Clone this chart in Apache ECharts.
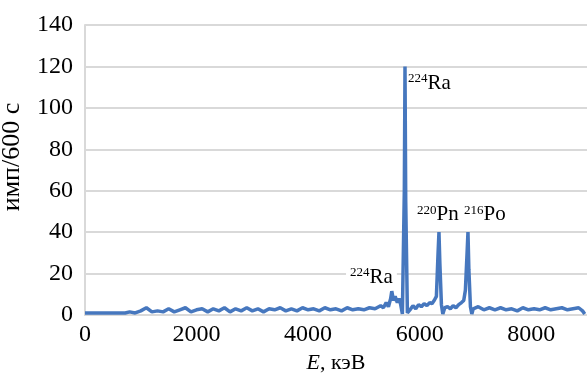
<!DOCTYPE html>
<html>
<head>
<meta charset="utf-8">
<script src="https://cdn.jsdelivr.net/npm/echarts@6/dist/echarts.min.js"></script>
<style>
  html, body { margin: 0; padding: 0; background: #fff; }
  #chart { width: 587px; height: 374px; }
</style>
</head>
<body>
<div id="chart"></div>
<script>
// энергия, кэВ
var energy = [
  0, 180, 360, 540, 720,
  800, 900, 1000, 1100, 1200, 1300, 1400, 1500, 1600, 1700, 1800, 1900,
  2000, 2100, 2200, 2300, 2400, 2500, 2600, 2700, 2800, 2900,
  3000, 3100, 3200, 3300, 3400, 3500, 3600, 3700, 3800, 3900,
  4000, 4100, 4200, 4300, 4400, 4500, 4600, 4700, 4800, 4900,
  5000, 5100, 5200, 5300, 5350, 5400, 5440, 5480, 5500, 5530, 5560, 5600, 5630, 5660,
  5690, 5725, 5737, 5750, 5780,
  5840, 5880, 5930, 5980, 6030, 6080, 6130, 6180, 6220, 6260, 6300,
  6330, 6346, 6362, 6390, 6415,
  6450, 6500, 6550, 6600, 6650, 6700, 6750, 6790, 6820,
  6850, 6866, 6882, 6910, 6935,
  6960, 7050, 7150, 7250, 7350, 7450, 7550, 7650, 7750, 7850, 7950,
  8050, 8150, 8250, 8350, 8450, 8550, 8650, 8750, 8850, 8920, 8960
];
// имп/600 с
var counts = [
  1, 1, 1, 1, 1,
  1.5, 1, 2, 3.5, 1.5, 2, 1.5, 3, 1.5, 2.5, 3.5, 1.5,
  2.5, 3, 1.5, 3, 2, 3.5, 1.5, 3, 2, 3.5,
  2, 3, 1.5, 3, 2.5, 3.5, 2, 3, 2, 3.5,
  2.5, 3, 2, 3.5, 2.5, 3, 2, 3.5, 2.5, 3,
  2.5, 3.5, 3, 4.5, 3.5, 6, 4, 8, 11.5, 7, 9, 6, 8, 5,
  0.5, 60, 120, 55, 1,
  3, 4.5, 3, 5, 4, 5.5, 4.5, 6, 5.5, 7, 9,
  30, 40, 25, 5, 0.5,
  3.5, 4, 3, 4.5, 3.5, 5, 6, 7, 12,
  30, 40, 22, 4, 0.5,
  3, 4, 2.5, 3.5, 2.5, 3.5, 2.5, 3, 2, 3.5, 2.5,
  3, 2.5, 3.5, 2.5, 3, 3.5, 2.5, 3, 3.5, 2, 0.5
];

var xTicks = [0, 2000, 4000, 6000, 8000];

// подписи пиков: [E, отсчёты, текст]
var peakLabels = [
  [5791, 112, '{s|224}{b|Ra}'],
  [5881, 48.8, '{s|220}{b|Pn }{s|216}{b|Po}'],
  [4680, 18.8, '{s|224}{b|Ra}']
];

var serif = 'Liberation Serif';
var chart = echarts.init(document.getElementById('chart'));

var seriesData = energy.map(function (e, i) {
  return [e, counts[i]];
});

var option = {
  animation: false,
  grid: {
    left: 85,
    right: 0,
    top: 25,
    bottom: 59,
    outerBoundsMode: 'none'
  },
  xAxis: {
    type: 'value',
    min: 0,
    max: 9000,
    interval: 2000,
    name: '{i|E}, кэВ',
    nameLocation: 'middle',
    nameGap: 32,
    nameTextStyle: {
      fontFamily: serif,
      fontSize: 22,
      color: '#000',
      rich: {
        i: { fontFamily: serif, fontSize: 22, fontStyle: 'italic', color: '#000' }
      }
    },
    axisLine: { show: true, lineStyle: { color: '#d9d9d9', width: 2 } },
    axisTick: { show: false },
    splitLine: { show: false },
    axisLabel: {
      showMaxLabel: false,
      margin: 8,
      fontFamily: serif,
      fontSize: 24,
      color: '#000',
      formatter: function (v) {
        return xTicks.indexOf(v) >= 0 ? String(v) : '';
      }
    }
  },
  yAxis: {
    type: 'value',
    min: 0,
    max: 140,
    interval: 20,
    name: 'имп/600 с',
    nameLocation: 'middle',
    nameGap: 60,
    nameTextStyle: { fontFamily: serif, fontSize: 26, color: '#000', padding: [0, 0, 0, 26] },
    axisLine: { show: true, lineStyle: { color: '#d9d9d9', width: 2 } },
    axisTick: { show: false },
    splitLine: { show: true, lineStyle: { color: '#d9d9d9', width: 2 } },
    axisLabel: {
      margin: 12,
      fontFamily: serif,
      fontSize: 24,
      color: '#000'
    }
  },
  series: [
    {
      type: 'line',
      data: seriesData,
      showSymbol: false,
      symbol: 'none',
      lineStyle: { color: '#4677be', width: 3.5 },
      markPoint: {
        symbol: 'circle',
        symbolSize: 0,
        silent: true,
        label: {
          show: true,
          position: 'right',
          distance: 0,
          formatter: function (p) { return p.data.text; },
          rich: {
            s: { fontFamily: serif, fontSize: 13, color: '#000', verticalAlign: 'top', lineHeight: 14 },
            b: { fontFamily: serif, fontSize: 21, color: '#000', lineHeight: 22 }
          }
        },
        data: peakLabels.map(function (p, i) {
          var d = { coord: [p[0], p[1]], text: p[2] };
          if (i > 0) {
            d.label = { backgroundColor: '#fff', padding: [3, 4, 1, 4] };
          }
          return d;
        })
      }
    }
  ]
};

chart.setOption(option);
</script>
</body>
</html>
